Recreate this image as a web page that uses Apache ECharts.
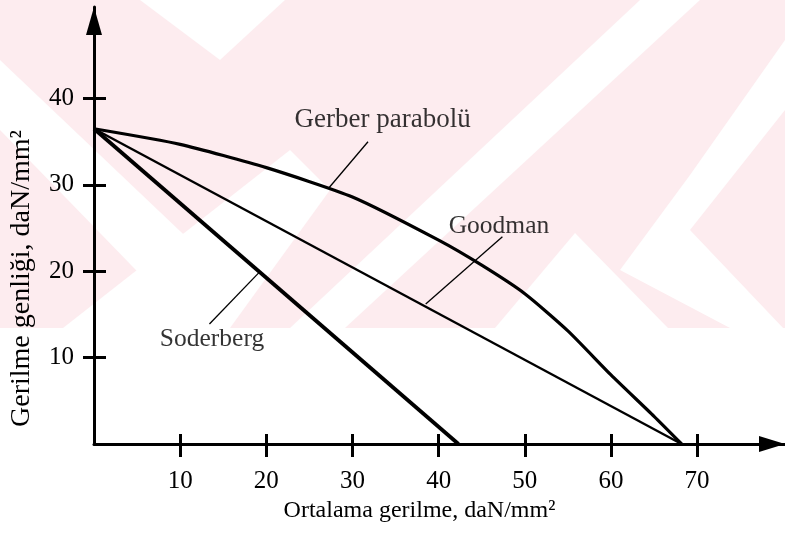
<!DOCTYPE html>
<html>
<head>
<meta charset="utf-8">
<script src="https://cdn.jsdelivr.net/npm/echarts@6/dist/echarts.min.js"></script>
<style>
  html, body { margin: 0; padding: 0; background: #fff; }
  #main { width: 785px; height: 535px; }
</style>
</head>
<body>
<div id="main"></div>
<script>
// eksen etiketleri
var xTicks = [10, 20, 30, 40, 50, 60, 70];
var yTicks = [10, 20, 30, 40];

// Gerber parabolü (resimden okunan noktalar)
var gerberX = [0, 10, 20, 30, 40, 45, 50, 55, 60, 65, 68.2];
var gerberY = [36.5, 34.7, 32.0, 28.6, 23.6, 20.7, 17.4, 13.1, 8.0, 3.2, 0];

// Goodman ve Soderberg doğruları
var goodmanX = [0, 68.2];
var goodmanY = [36.5, 0];
var soderbergX = [0, 42.3];
var soderbergY = [36.5, 0];

// etiketler ve çizgileri
var labelNames = ['Gerber parabolü', 'Goodman', 'Soderberg'];
var labelX = [33.5, 47.0, 13.7];
var labelY = [37.5, 25.2, 12.1];
var leaderX1 = [31.8, 47.4, 13.4];
var leaderY1 = [35.0, 24.0, 13.9];
var leaderX2 = [27.3, 38.5, 19.2];
var leaderY2 = [29.7, 16.2, 19.9];

var font = 'Liberation Serif';

function pairs(xs, ys) {
    return xs.map(function (x, i) { return [x, ys[i]]; });
}

var myChart = echarts.init(document.getElementById('main'));

var tickStyle = { color: '#000', width: 3 };
var labelStyle = { color: '#000', fontFamily: font, fontSize: 25 };

var series = [
    {
        type: 'line', name: 'Gerber', data: pairs(gerberX, gerberY),
        smooth: 0.2, symbol: 'none',
        lineStyle: { color: '#000', width: 3.2 }
    },
    {
        type: 'line', name: 'Goodman', data: pairs(goodmanX, goodmanY),
        symbol: 'none', lineStyle: { color: '#000', width: 2.4 }
    },
    {
        type: 'line', name: 'Soderberg', data: pairs(soderbergX, soderbergY),
        symbol: 'none', lineStyle: { color: '#000', width: 3.8 }
    }
];

labelNames.forEach(function (n, i) {
    series.push({
        type: 'line', symbol: 'none', silent: true,
        data: [[leaderX1[i], leaderY1[i]], [leaderX2[i], leaderY2[i]]],
        lineStyle: { color: '#000', width: 1.3 }
    });
});

series.push({
    type: 'scatter', symbolSize: 0, silent: true,
    data: labelNames.map(function (n, i) {
        return {
            name: n, value: [labelX[i], labelY[i]],
            label: { fontSize: i === 0 ? 27 : 25.5 }
        };
    }),
    label: {
        show: true, position: 'inside', formatter: '{b}',
        color: '#000', fontFamily: font
    }
});

// arka plandaki pembe filigran
var pink = '#fdecef';
var white = '#ffffff';
var wm = [
    { type: 'rect', shape: { x: 0, y: 0, width: 785, height: 328 }, style: { fill: pink } },
    { type: 'polygon', shape: { points: [[140, 0], [285, 0], [220, 60]] }, style: { fill: white } },
    { type: 'polygon', shape: { points: [[0, 60], [0, 130], [165, 300], [200, 250]] }, style: { fill: white } },
    { type: 'polygon', shape: { points: [[63, 328], [230, 328], [330, 190], [290, 150]] }, style: { fill: white } },
    { type: 'polygon', shape: { points: [[290, 328], [345, 328], [700, 0], [640, 0]] }, style: { fill: white } },
    { type: 'polygon', shape: { points: [[575, 233], [495, 328], [668, 328]] }, style: { fill: white } },
    { type: 'polygon', shape: { points: [[620, 270], [690, 175], [785, 40], [785, 110], [690, 230], [785, 330], [730, 328]] }, style: { fill: white } }
];
wm.forEach(function (g) { g.z = -10; g.silent = true; });

var option = {
    backgroundColor: '#fff',
    animation: false,
    graphic: { elements: wm },
    grid: { left: 93, top: 7, width: 692, height: 437 },
    xAxis: [
        {
            type: 'value', min: 0, max: 80.2, position: 'bottom',
            axisLine: {
                show: true, lineStyle: { color: '#000', width: 3 },
                symbol: ['none', 'triangle'], symbolSize: [16, 26], symbolOffset: [0, -13]
            },
            axisTick: { show: true, inside: true, length: 10, lineStyle: tickStyle, customValues: xTicks },
            axisLabel: Object.assign({ margin: 25, customValues: xTicks }, labelStyle),
            splitLine: { show: false },
            name: 'Ortalama gerilme, daN/mm²', nameLocation: 'middle', nameGap: 53,
            nameTextStyle: { color: '#000', fontFamily: font, fontSize: 24, padding: [0, 40, 0, 0] }
        },
        {
            type: 'value', min: 0, max: 80.2, position: 'bottom',
            axisLine: { show: false },
            axisTick: { show: true, inside: false, length: 13, lineStyle: tickStyle, customValues: xTicks },
            axisLabel: { show: false },
            splitLine: { show: false }
        }
    ],
    yAxis: [
        {
            type: 'value', min: 0, max: 50.6, position: 'left',
            axisLine: {
                show: true, lineStyle: { color: '#000', width: 3 },
                symbol: ['none', 'triangle'], symbolSize: [16, 28], symbolOffset: [0, -14]
            },
            axisTick: { show: true, inside: true, length: 12, lineStyle: tickStyle, customValues: yTicks },
            axisLabel: Object.assign({ margin: 20, customValues: yTicks }, labelStyle),
            splitLine: { show: false },
            name: 'Gerilme genliği, daN/mm²', nameLocation: 'middle', nameGap: 58,
            nameRotate: 90,
            nameTextStyle: { color: '#000', fontFamily: font, fontSize: 28, padding: [0, 106, 0, 0] }
        },
        {
            type: 'value', min: 0, max: 50.6, position: 'left',
            axisLine: { show: false },
            axisTick: { show: true, inside: false, length: 11, lineStyle: tickStyle, customValues: yTicks },
            axisLabel: { show: false },
            splitLine: { show: false }
        }
    ],
    series: series
};

myChart.setOption(option);
</script>
</body>
</html>
